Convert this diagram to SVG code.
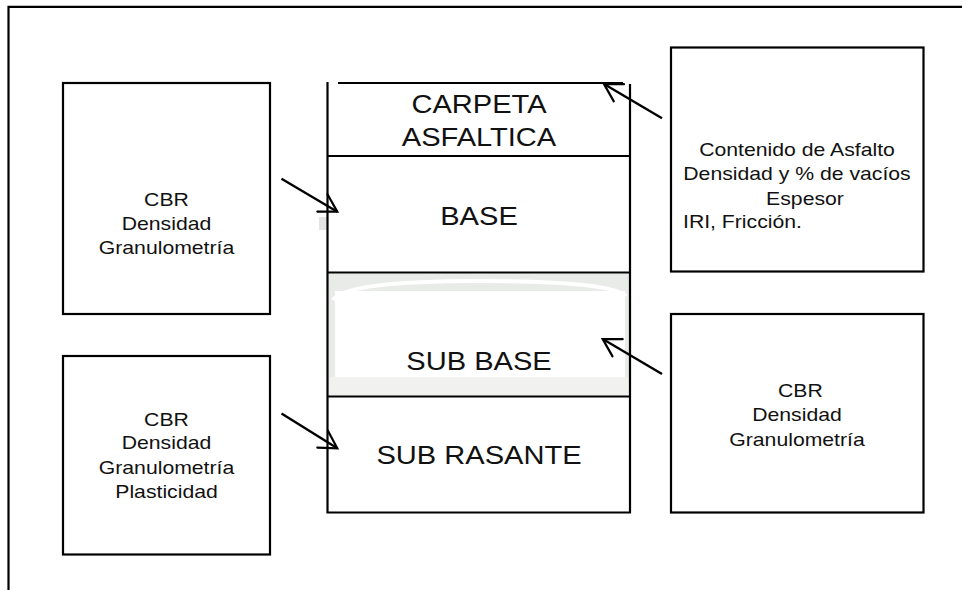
<svg xmlns="http://www.w3.org/2000/svg" width="962" height="590" viewBox="0 0 962 590">
  <defs>
    <marker id="open-arrow" markerUnits="userSpaceOnUse" markerWidth="30" markerHeight="30" viewBox="-25 -15 30 30" refX="0" refY="0" orient="auto">
      <path d="M -17.3 -10 L 0 0 L -17.3 10" fill="none" stroke="#000" stroke-width="2.2" stroke-linecap="round" stroke-linejoin="miter"/>
    </marker>
  </defs>
  <style>
    .box { fill: #fff; stroke: #000; stroke-width: 2.2; }
    .ln { stroke: #000; stroke-width: 2.2; fill: none; }
    .conn { stroke: #000; stroke-width: 2.4; fill: none; marker-end: url(#open-arrow); }
    .lbl { font-family: "Liberation Sans", Arial, sans-serif; font-size: 18.6px; fill: #111; }
    .big { font-family: "Liberation Sans", Arial, sans-serif; font-size: 25.5px; fill: #111; }
    .mid { text-anchor: middle; }
  </style>

  <rect width="962" height="590" fill="#fff"/>

  <!-- outer frame (top and left edges) -->
  <path class="ln" d="M 8.5 590 L 8.5 6.8 L 962 6.8"/>

  <!-- pavement layer stack -->
  <g id="stack">
    <!-- faint shading in the sub base layer -->
    <rect x="328.5" y="273.5" width="301" height="122" fill="#e9ebe8"/>
    <path d="M 333 300 Q 345 281 480 281 Q 610 281 626 296" fill="none" stroke="#fff" stroke-width="4"/>
    <rect x="335" y="291" width="290" height="86" fill="#fff"/>
    <rect x="328.5" y="377" width="301" height="18.5" fill="#f1f2f0"/>
    <rect x="319" y="217" width="8" height="13" fill="#e2e4e1"/>

    <path class="ln" d="M 327.5 82 L 327.5 512.5 L 630 512.5 L 630 84"/>
    <path class="ln" d="M 338 83 L 623 83"/>
    <path class="ln" d="M 327.5 156 L 630 156"/>
    <path class="ln" d="M 327.5 272.5 L 630 272.5"/>
    <path class="ln" d="M 327.5 396.5 L 630 396.5"/>
  </g>

  <g id="carpeta">
    <g transform="translate(479 0) scale(1.14 1)">
      <text class="big mid" x="0" y="113.5">CARPETA</text>
      <text class="big mid" x="0" y="146">ASFALTICA</text>
    </g>
  </g>
  <g id="base">
    <g transform="translate(479 0) scale(1.14 1)">
      <text class="big mid" x="0" y="225">BASE</text>
    </g>
  </g>
  <g id="sub-base">
    <g transform="translate(479 0) scale(1.14 1)">
      <text class="big mid" x="0" y="370">SUB BASE</text>
    </g>
  </g>
  <g id="sub-rasante">
    <g transform="translate(479 0) scale(1.14 1)">
      <text class="big mid" x="0" y="464">SUB RASANTE</text>
    </g>
  </g>

  <!-- tests for the base -->
  <g id="base-tests">
    <rect class="box" x="63" y="83" width="207" height="231"/>
    <g transform="translate(166.5 0) scale(1.14 1)">
      <text class="lbl mid" x="0" y="205.7">CBR</text>
      <text class="lbl mid" x="0" y="230.5">Densidad</text>
      <text class="lbl mid" x="0" y="254.5">Granulometría</text>
    </g>
  </g>

  <!-- tests for the sub rasante -->
  <g id="subrasante-tests">
    <rect class="box" x="63" y="356" width="207" height="198.5"/>
    <g transform="translate(166.5 0) scale(1.14 1)">
      <text class="lbl mid" x="0" y="425.7">CBR</text>
      <text class="lbl mid" x="0" y="449.5">Densidad</text>
      <text class="lbl mid" x="0" y="474">Granulometría</text>
      <text class="lbl mid" x="0" y="497.7">Plasticidad</text>
    </g>
  </g>

  <!-- tests for the asphalt layer -->
  <g id="carpeta-tests">
    <rect class="box" x="671" y="47.5" width="252.5" height="224"/>
    <g transform="translate(797 0) scale(1.14 1)">
      <text class="lbl mid" x="0" y="156">Contenido de Asfalto</text>
      <text class="lbl mid" x="0" y="180">Densidad y % de vacíos</text>
      <text class="lbl mid" x="7" y="205">Espesor</text>
    </g>
    <g transform="translate(683 0) scale(1.14 1)">
      <text class="lbl" x="0" y="227.7">IRI, Fricción.</text>
    </g>
  </g>

  <!-- tests for the sub base -->
  <g id="subbase-tests">
    <rect class="box" x="671" y="314" width="252.5" height="198.5"/>
    <g transform="translate(797 0) scale(1.14 1)">
      <text class="lbl mid" x="3" y="397.3">CBR</text>
      <text class="lbl mid" x="0" y="420.7">Densidad</text>
      <text class="lbl mid" x="0" y="445.7">Granulometría</text>
    </g>
  </g>

  <!-- connectors -->
  <g id="connectors">
    <line class="conn" x1="662" y1="118.3" x2="604" y2="84"/>
    <line class="conn" x1="281.5" y1="178.8" x2="337.3" y2="211.7"/>
    <line class="conn" x1="281.5" y1="413.5" x2="337.3" y2="448.3"/>
    <line class="conn" x1="662" y1="374" x2="602.7" y2="339"/>
  </g>
</svg>
